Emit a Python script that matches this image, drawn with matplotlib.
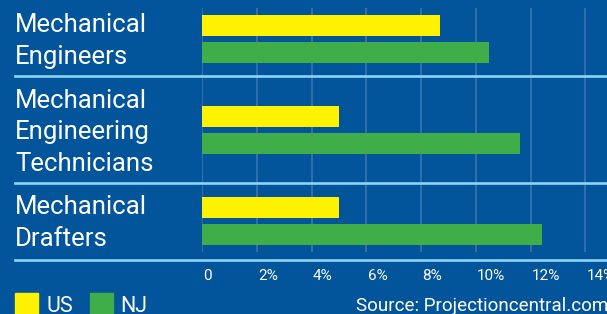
import matplotlib
matplotlib.use('Agg')
import matplotlib.pyplot as plt
import matplotlib.transforms as mtransforms
from matplotlib.lines import Line2D
from matplotlib.patches import Rectangle

# --- data ---
categories = ['Mechanical\nEngineers',
              'Mechanical\nEngineering\nTechnicians',
              'Mechanical\nDrafters']
us_values = [8.7, 5.0, 5.0]
nj_values = [10.5, 11.6, 12.4]
ticks = [0, 2, 4, 6, 8, 10, 12, 14]
tick_labels = ['0', '2%', '4%', '6%', '8%', '10%', '12%', '14%']

BG = '#02559A'
YELLOW = '#FFF200'
GREEN = '#3FAE49'
SEP = '#8DD3F4'
GRID = '#3F78B0'

W, H = 607, 314
plt.rcParams['font.family'] = ['Roboto', 'DejaVu Sans']

fig = plt.figure(figsize=(W / 100, H / 100), dpi=100, facecolor=BG)

# pixel layout helpers
x0_px = 202          # pixel of 0 %
px_per_pct = 27.38
pitch_px = 91        # distance between category groups
first_px = 38.9      # pixel centre of first group


def py(p):
    """pixel row -> data y"""
    return (p - first_px) / pitch_px


ax = fig.add_axes([x0_px / W, 0, (W - x0_px) / W, 1])
ax.set_facecolor(BG)
ax.set_xlim(0, (W - x0_px) / px_per_pct)
ax.set_ylim(py(H), py(0))
ax.axis('off')

# grid lines
ax.vlines(ticks, py(8), py(252), color=GRID, lw=1.1, zorder=1)

# bars
off = 13.5 / pitch_px
bh = 21 / pitch_px
ypos = list(range(len(categories)))
ax.barh([y - off for y in ypos], us_values, height=bh, color=YELLOW, zorder=2)
ax.barh([y + off for y in ypos], nj_values, height=bh, color=GREEN, zorder=2)

# tick labels
for t, lab in zip(ticks, tick_labels):
    ax.text(t + 0.05, py(279.5), lab, ha='left', va='baseline',
            color='white', fontsize=11, clip_on=False)

# category labels
blend = mtransforms.blended_transform_factory(fig.transFigure, ax.transData)
for y, cat in zip(ypos, categories):
    fig.text(15 / W, y + 0.025, cat, transform=blend, ha='left', va='center',
             color='white', fontsize=18.5, linespacing=1.4)

# separators
for p in [76, 183.3, 259.7]:
    fig.add_artist(Line2D([15 / W, 1], [1 - p / H] * 2, transform=fig.transFigure,
                          color=SEP, lw=1.9))

# legend
fig.add_artist(Rectangle((15 / W, 0), 23 / W, 21 / H, transform=fig.transFigure,
                         color=YELLOW))
fig.text(46 / W, 1 - 311.5 / H, 'US', color='white', fontsize=15.5, va='baseline')
fig.add_artist(Rectangle((90 / W, 0), 23 / W, 21 / H, transform=fig.transFigure,
                         color=GREEN))
fig.text(120 / W, 1 - 311.5 / H, 'NJ', color='white', fontsize=15.5, va='baseline')

# source
fig.text(356 / W, 1 - 311 / H, 'Source: Projectioncentral.com', color='white',
         fontsize=13.5, va='baseline', ha='left')

fig.savefig('out.png', dpi=100, facecolor=BG)
